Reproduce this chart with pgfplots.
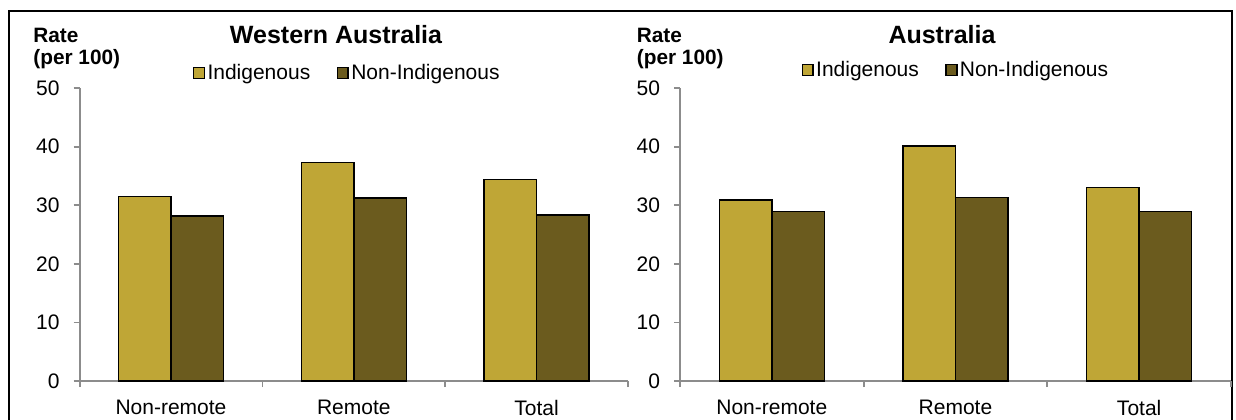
\documentclass[border=0pt]{standalone}
\usepackage{fontspec}
\setmainfont{Liberation Sans}
\usepackage{pgfplots}
\pgfplotsset{compat=1.18}
\definecolor{indig}{RGB}{191,166,54}
\definecolor{nonindig}{RGB}{107,91,30}
\definecolor{axgray}{RGB}{140,140,140}

\pgfplotsset{
  panel/.style={
    scale only axis, height=146.5pt, clip=false,
    ybar=0pt, bar width=26.25pt,
    ymin=0, ymax=50, ytick={0,10,20,30,40,50},
    xmin=-0.5, xmax=2.5,
    xtick={-0.5,0.5,1.5,2.5},
    x tick label as interval=true,
    xticklabels={Non-remote,Remote,Total},
    enlarge x limits=false, enlarge y limits=false,
    axis lines*=left,
    axis line style={axgray, line width=0.9pt},
    tick align=outside, major tick length=3pt,
    tick style={axgray, line width=0.9pt},
    /pgf/number format/assume math mode=true,
    yticklabel style={font=\fontsize{10.5}{12}\selectfont, xshift=-3.5pt},
    xticklabel style={font=\fontsize{10.5}{12}\selectfont, yshift=-3pt},
    every axis plot/.append style={draw=black, line width=0.8pt},
    legend columns=2,
    legend image code/.code={\draw[#1,draw=black,line width=0.7pt] (0pt,-2.7pt) rectangle (5.4pt,2.7pt);},
    legend style={draw=none, fill=none, anchor=west,
      font=\fontsize{10.5}{12}\selectfont,
      nodes={inner sep=1.2pt},
      /tikz/every even column/.append style={column sep=12pt}},
    title style={font=\bfseries\fontsize{12.5}{15}\selectfont, anchor=center},
  }
}

\begin{document}
\begin{tikzpicture}
\useasboundingbox (0pt,0pt) rectangle (618pt,209.5pt);
\draw[black, line width=1pt] (4.5pt,-10pt) -- (4.5pt,204pt) -- (616pt,204pt) -- (616pt,-10pt);

\begin{axis}[panel, width=274.2pt, at={(39.8pt,19pt)}, anchor=south west,
  title={Western Australia}, title style={at={(0.4676,1.143)}},
  legend style={at={(0.195,1.051)}}]
\addplot[fill=indig] coordinates {(0,31.5) (1,37.3) (2,34.4)};
\addplot[fill=nonindig] coordinates {(0,28.2) (1,31.2) (2,28.3)};
\legend{Indigenous,Non-Indigenous}
\node[anchor=north west, align=left, inner sep=0pt, font=\bfseries\fontsize{10.4}{11}\selectfont] at (rel axis cs:-0.085,1.205) {Rate\\(per 100)};
\end{axis}

\begin{axis}[panel, width=275.5pt, at={(340pt,19pt)}, anchor=south west,
  title={Australia}, title style={at={(0.4755,1.143)}},
  legend style={at={(0.209,1.061)}}]
\addplot[fill=indig] coordinates {(0,30.9) (1,40.1) (2,33.0)};
\addplot[fill=nonindig] coordinates {(0,28.9) (1,31.3) (2,28.9)};
\legend{Indigenous,Non-Indigenous}
\node[anchor=north west, align=left, inner sep=0pt, font=\bfseries\fontsize{10.4}{11}\selectfont] at (rel axis cs:-0.079,1.205) {Rate\\(per 100)};
\end{axis}
\end{tikzpicture}
\end{document}
